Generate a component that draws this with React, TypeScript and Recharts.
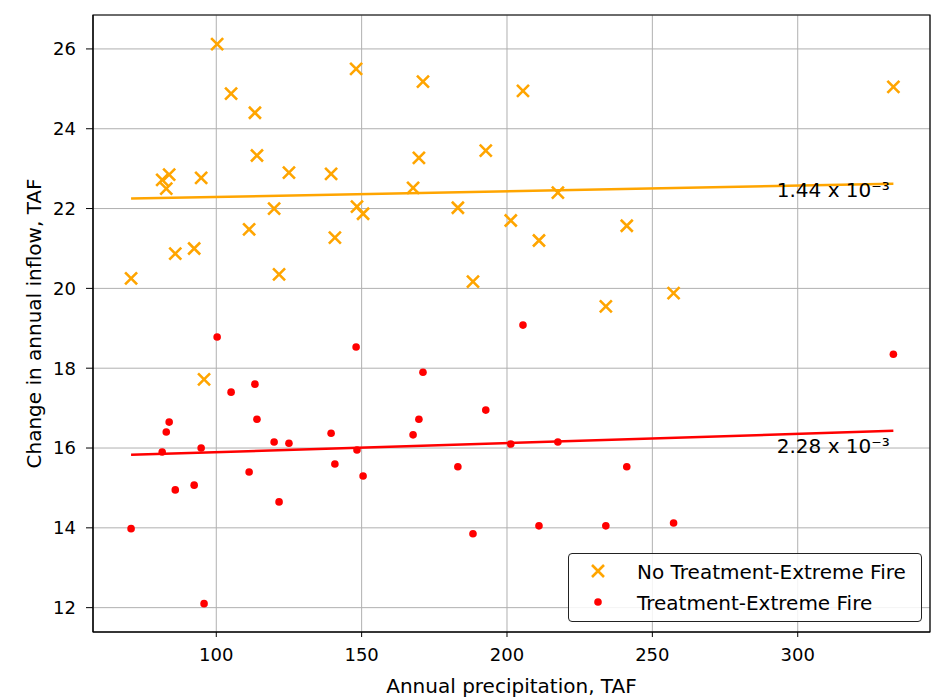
import React from 'react';
import {
  ScatterChart,
  Scatter,
  XAxis,
  YAxis,
  CartesianGrid,
  ReferenceLine,
  ReferenceArea
} from 'recharts';

// annual precipitation (TAF) for each year
const precip = [
  70.7, 81.4, 82.8, 83.8, 85.9, 92.4, 94.8, 95.8, 100.3, 105.1, 111.3, 113.3,
  114.0, 119.9, 121.6, 125.0, 139.5, 140.8, 148.1, 148.4, 150.5, 167.7, 169.7,
  171.1, 183.1, 188.3, 192.7, 201.3, 205.5, 211.0, 217.5, 234.0, 241.2, 257.3,
  332.9
];

const noTreatment = [
  20.25, 22.72, 22.5, 22.85, 20.87, 21.0, 22.77, 17.72, 26.12, 24.88, 21.48,
  24.4, 23.33, 22.0, 20.35, 22.9, 22.87, 21.27, 25.5, 22.05, 21.87, 22.52,
  23.27, 25.18, 22.02, 20.17, 23.45, 21.7, 24.95, 21.2, 22.4, 19.55, 21.57,
  19.88, 25.05
];

const treatment = [
  13.98, 15.9, 16.4, 16.65, 14.95, 15.07, 16.0, 12.1, 18.78, 17.4, 15.4, 17.6,
  16.72, 16.15, 14.65, 16.12, 16.37, 15.6, 18.53, 15.95, 15.3, 16.33, 16.72,
  17.9, 15.53, 13.85, 16.95, 16.1, 19.08, 14.05, 16.15, 14.05, 15.53, 14.12,
  18.35
];

// fitted trend line end points
const trendX = [70.7, 332.9];
const noTreatmentTrend = [22.25, 22.62];
const treatmentTrend = [15.83, 16.43];

// slope annotations
const slopeLabels = ['1.44 x 10⁻³', '2.28 x 10⁻³'];
const slopeX = [292.8, 292.8];
const slopeY = [22.46, 16.05];

const xTicks = [100, 150, 200, 250, 300];
const yTicks = [12, 14, 16, 18, 20, 22, 24, 26];
const xDomain = [57.6, 345.5];
const yDomain = [11.39, 26.85];

const ORANGE = '#FFA500';
const RED = '#FF0000';
const FONT = '"DejaVu Sans", sans-serif';

const noTreatmentData = precip.map((x, i) => ({ x, y: noTreatment[i] }));
const treatmentData = precip.map((x, i) => ({ x, y: treatment[i] }));
const slopeData = slopeLabels.map((label, i) => ({ x: slopeX[i], y: slopeY[i], label }));

function XMark(props: any) {
  const { cx, cy } = props;
  const s = 6;
  return (
    <path
      d={`M${cx - s},${cy - s}L${cx + s},${cy + s}M${cx - s},${cy + s}L${cx + s},${cy - s}`}
      stroke={ORANGE}
      strokeWidth={2.6}
      fill="none"
    />
  );
}

function RedDot(props: any) {
  const { cx, cy } = props;
  return <circle cx={cx} cy={cy} r={3.8} fill={RED} />;
}

function SlopeText(props: any) {
  const { cx, cy, payload } = props;
  return (
    <text x={cx} y={cy} dominantBaseline="central" fontSize={20} fontFamily={FONT} fill="#000">
      {payload.label}
    </text>
  );
}

const tickStyle = { fontSize: 18, fontFamily: FONT, fill: '#000' };

export default function App() {
  return (
    <div
      style={{
        position: 'absolute',
        left: 0,
        top: 0,
        width: 931,
        height: 698,
        background: '#fff',
        fontFamily: FONT
      }}
    >
      <ScatterChart width={931} height={698} margin={{ top: 15, right: 1, left: 0, bottom: 0 }}>
        <CartesianGrid stroke="#b0b0b0" strokeWidth={1} />
        <XAxis
          type="number"
          dataKey="x"
          domain={xDomain}
          ticks={xTicks}
          allowDataOverflow
          height={66}
          tickSize={5}
          tickMargin={11}
          tick={tickStyle}
          stroke="#000"
          label={{
            content: (p: any) => (
              <text
                x={p.viewBox.x + p.viewBox.width / 2}
                y={693}
                textAnchor="middle"
                fontSize={20}
                fontFamily={FONT}
                fill="#000"
              >
                Annual precipitation, TAF
              </text>
            )
          }}
        />
        <YAxis
          type="number"
          dataKey="y"
          domain={yDomain}
          ticks={yTicks}
          allowDataOverflow
          width={93}
          tickSize={7}
          tickMargin={10}
          tick={tickStyle}
          stroke="#000"
          label={{
            content: (p: any) => {
              const cy = p.viewBox.y + p.viewBox.height / 2;
              return (
                <text
                  x={41}
                  y={cy}
                  transform={`rotate(-90, 41, ${cy})`}
                  textAnchor="middle"
                  fontSize={20}
                  fontFamily={FONT}
                  fill="#000"
                >
                  Change in annual inflow, TAF
                </text>
              );
            }
          }}
        />
        <ReferenceArea
          x1={xDomain[0]}
          x2={xDomain[1]}
          y1={yDomain[0]}
          y2={yDomain[1]}
          fill="none"
          stroke="#000"
          strokeWidth={1.2}
          ifOverflow="visible"
        />
        <Scatter data={noTreatmentData} shape={XMark} isAnimationActive={false} />
        <Scatter data={treatmentData} shape={RedDot} isAnimationActive={false} />
        <ReferenceLine
          segment={[
            { x: trendX[0], y: noTreatmentTrend[0] },
            { x: trendX[1], y: noTreatmentTrend[1] }
          ]}
          stroke={ORANGE}
          strokeWidth={2.5}
        />
        <ReferenceLine
          segment={[
            { x: trendX[0], y: treatmentTrend[0] },
            { x: trendX[1], y: treatmentTrend[1] }
          ]}
          stroke={RED}
          strokeWidth={2.5}
        />
        <Scatter data={slopeData} shape={SlopeText} isAnimationActive={false} />
      </ScatterChart>

      <div
        style={{
          position: 'absolute',
          left: 568,
          top: 553,
          width: 354,
          height: 69,
          boxSizing: 'border-box',
          border: '1.3px solid #222',
          borderRadius: 4,
          background: 'rgba(255,255,255,0.85)',
          fontSize: 20,
          color: '#000'
        }}
      >
        <svg width={50} height={67} style={{ position: 'absolute', left: 0, top: 0 }}>
          <path d="M23,11L35,23M23,23L35,11" stroke={ORANGE} strokeWidth={2.6} fill="none" />
          <circle cx={29} cy={48} r={3.8} fill={RED} />
        </svg>
        <div style={{ position: 'absolute', left: 68, top: 5, lineHeight: '26px', whiteSpace: 'nowrap' }}>
          No Treatment-Extreme Fire
        </div>
        <div style={{ position: 'absolute', left: 68, top: 36, lineHeight: '26px', whiteSpace: 'nowrap' }}>
          Treatment-Extreme Fire
        </div>
      </div>
    </div>
  );
}
